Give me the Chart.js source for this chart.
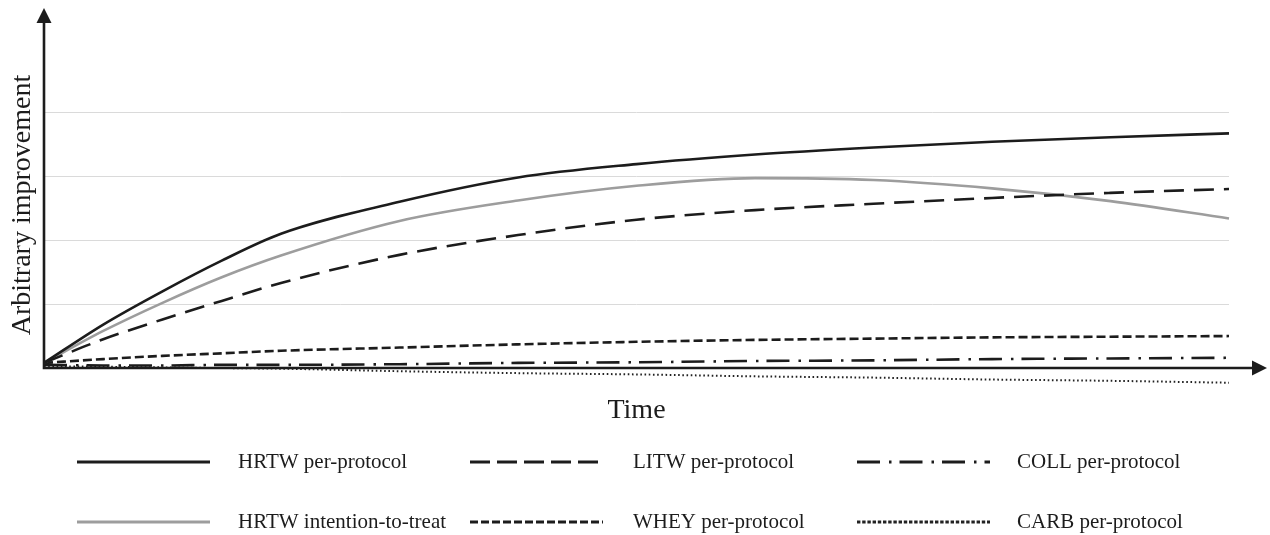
<!doctype html>
<html>
	<head>
		<meta charset="utf-8" />
		<title>Arbitrary improvement over time</title>
		<script src="https://cdn.jsdelivr.net/npm/chart.js@4.4.1/dist/chart.umd.min.js"></script>
		<style>
			html,
			body {
				margin: 0;
				padding: 0;
				background: #fff;
			}

			#wrap {
				position: relative;
				width: 1270px;
				height: 535px;
			}
		</style>
	</head>

	<body>
		<div id="wrap"><canvas id="chartJSContainer"></canvas></div>

		<script>
			// values (arbitrary units)
			const time = [0, 0.5, 1, 1.5, 2, 3, 4, 5, 6, 7, 8, 9, 10];
			const hrtwPerProtocol = [0.08, 0.68, 1.2, 1.68, 2.1, 2.6, 2.98, 3.19, 3.34, 3.45, 3.54, 3.61, 3.67];
			const litwPerProtocol = [0.08, 0.45, 0.76, 1.05, 1.33, 1.77, 2.08, 2.32, 2.47, 2.57, 2.66, 2.74, 2.8];
			const collPerProtocol = [0.05, 0.04, 0.04, 0.05, 0.05, 0.06, 0.08, 0.09, 0.11, 0.12, 0.14, 0.15, 0.16];
			const hrtwIntentionToTreat = [0.08, 0.58, 1.02, 1.42, 1.76, 2.3, 2.62, 2.85, 2.97, 2.94, 2.81, 2.61, 2.34];
			const wheyPerProtocol = [0.08, 0.14, 0.19, 0.23, 0.27, 0.32, 0.37, 0.41, 0.44, 0.46, 0.48, 0.49, 0.5];
			const carbPerProtocol = [0.03, 0.02, 0.01, 0, -0.01, -0.05, -0.08, -0.1, -0.13, -0.15, -0.18, -0.2, -0.23];
			const gridValues = [1, 2, 3, 4];

			const serif = "'Liberation Serif', 'Times New Roman', serif";
			const ink = "#1c1c1c";

			const toPoints = (values) => values.map((v, i) => ({ x: time[i], y: v }));

			function series(label, values, color, width, dash, legendDash) {
				return {
					label: label,
					data: toPoints(values),
					borderColor: color,
					borderWidth: width,
					borderDash: dash,
					legendDash: legendDash || dash,
					borderCapStyle: "butt",
					pointRadius: 0,
					fill: false,
					clip: false,
					cubicInterpolationMode: "monotone",
				};
			}

			// order = legend order: row by row, three per row
			const datasets = [
				series("HRTW per-protocol", hrtwPerProtocol, ink, 2.6, []),
				series("LITW per-protocol", litwPerProtocol, ink, 2.6, [20, 10], [20, 7]),
				series("COLL per-protocol", collPerProtocol, ink, 2.6, [23, 9, 2.5, 8]),
				series("HRTW intention-to-treat", hrtwIntentionToTreat, "#9d9d9d", 2.6, []),
				series("WHEY per-protocol", wheyPerProtocol, ink, 2.6, [9, 4], [8, 3]),
				series("CARB per-protocol", carbPerProtocol, "#222", 2, [1.6, 2.6], [3.4, 1.8]),
			];

			// arrows on the two axes
			const arrowAxes = {
				id: "arrowAxes",
				afterDatasetsDraw(chart) {
					const { ctx, chartArea, scales } = chart;
					const x0 = scales.x.getPixelForValue(0);
					const y0 = scales.y.getPixelForValue(0);
					const yTip = chartArea.top - 2;
					const xTip = chartArea.right + 38;
					ctx.save();
					ctx.strokeStyle = ink;
					ctx.fillStyle = ink;
					ctx.lineWidth = 2.6;
					ctx.beginPath();
					ctx.moveTo(x0, y0 + 1.3);
					ctx.lineTo(x0, yTip + 14);
					ctx.moveTo(x0 - 1.3, y0);
					ctx.lineTo(xTip - 14, y0);
					ctx.stroke();
					ctx.beginPath();
					ctx.moveTo(x0, yTip);
					ctx.lineTo(x0 - 7.5, yTip + 15);
					ctx.lineTo(x0 + 7.5, yTip + 15);
					ctx.closePath();
					ctx.fill();
					ctx.beginPath();
					ctx.moveTo(xTip, y0);
					ctx.lineTo(xTip - 15, y0 - 7.5);
					ctx.lineTo(xTip - 15, y0 + 7.5);
					ctx.closePath();
					ctx.fill();
					ctx.restore();
				},
			};

			// two-row legend under the axis title
			const gridLegend = {
				id: "gridLegend",
				afterDraw(chart, args, opts) {
					const { ctx } = chart;
					ctx.save();
					chart.data.datasets.forEach((ds, i) => {
						const col = i % 3,
							row = Math.floor(i / 3);
						const x = opts.lineX[col],
							y = opts.rowY[row];
						ctx.strokeStyle = ds.borderColor;
						ctx.lineWidth = opts.lineWidth;
						ctx.setLineDash(ds.legendDash);
						ctx.beginPath();
						ctx.moveTo(x, y);
						ctx.lineTo(x + opts.lineLength, y);
						ctx.stroke();
						ctx.setLineDash([]);
						ctx.fillStyle = ink;
						ctx.font = opts.font;
						ctx.textBaseline = "middle";
						ctx.textAlign = "left";
						ctx.fillText(ds.label, opts.textX[col], y);
					});
					ctx.restore();
				},
			};

			const ctx = document.getElementById("chartJSContainer").getContext("2d");
			window.testedChart = new Chart(ctx, {
				type: "line",
				data: { datasets: datasets },
				plugins: [arrowAxes, gridLegend],
				options: {
					responsive: true,
					maintainAspectRatio: false,
					animation: false,
					layout: { padding: { top: 10, right: 41, bottom: 110, left: 0 } },
					plugins: {
						legend: { display: false },
						tooltip: { enabled: false },
						gridLegend: {
							lineX: [77, 470, 857],
							textX: [238, 633, 1017],
							rowY: [462, 522],
							lineLength: 133,
							lineWidth: 3,
							font: "21px " + serif,
						},
					},
					scales: {
						x: {
							type: "linear",
							min: 0,
							max: 10,
							grid: { display: false },
							border: { display: false },
							ticks: { display: false },
							title: {
								display: true,
								text: "Time",
								color: ink,
								font: { family: serif, size: 28, lineHeight: 1 },
								padding: 0,
							},
							afterFit(axis) {
								axis.height = 25;
							},
						},
						y: {
							type: "linear",
							min: -0.5,
							max: 5.6,
							grid: { color: "#dadada", lineWidth: 1, drawTicks: false },
							border: { display: false },
							ticks: { display: false },
							afterBuildTicks(axis) {
								axis.ticks = gridValues.map((v) => ({ value: v }));
							},
							title: {
								display: true,
								text: "Arbitrary improvement",
								color: ink,
								font: { family: serif, size: 28, lineHeight: 1 },
								padding: { top: 9, bottom: 0 },
							},
							afterFit(axis) {
								axis.width = 44;
							},
						},
					},
				},
			});
		</script>
	</body>
</html>
